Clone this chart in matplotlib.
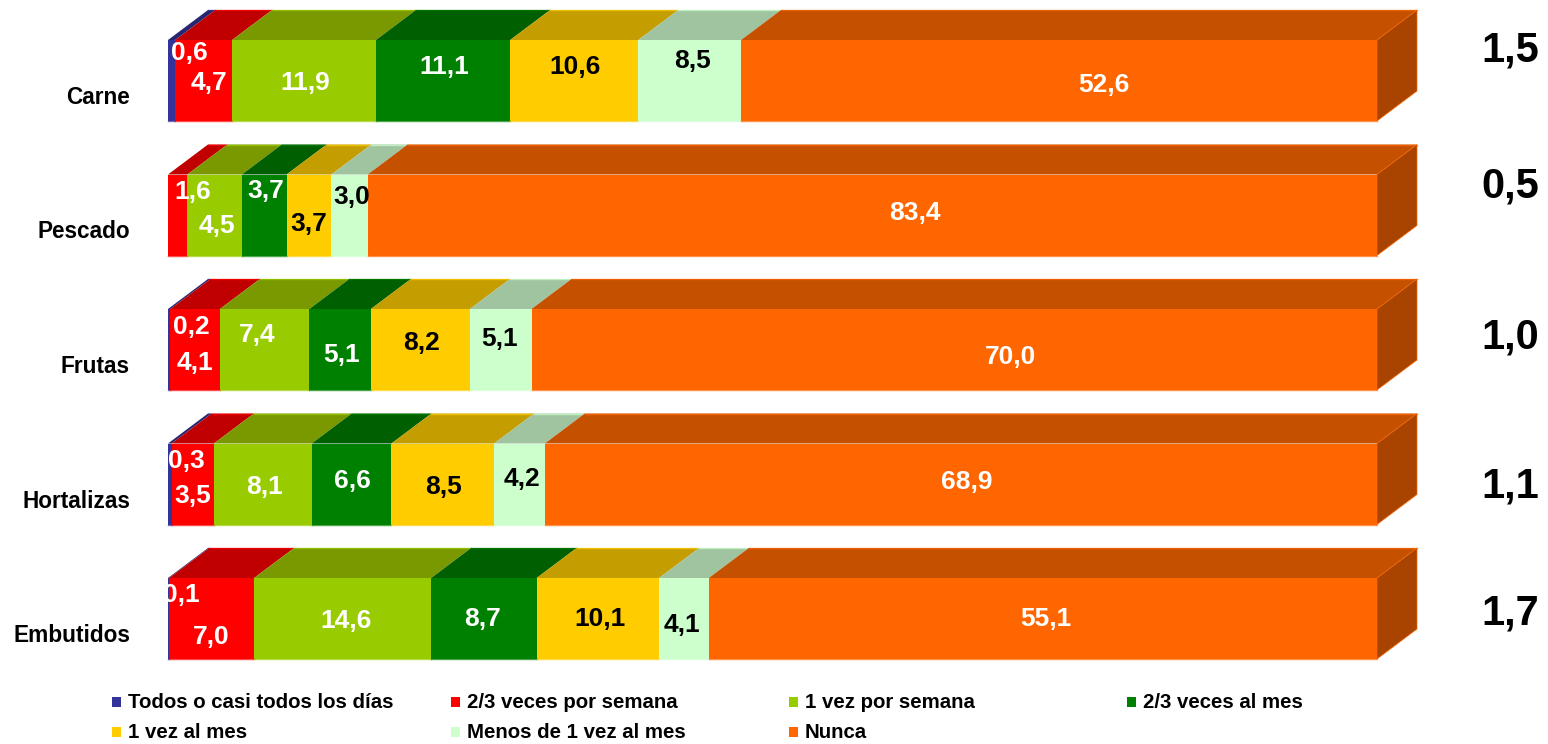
import numpy as np
import matplotlib
matplotlib.use('Agg')
import matplotlib.pyplot as plt
from matplotlib.patches import Polygon, Rectangle

plt.rcParams['font.family'] = ['Liberation Sans', 'DejaVu Sans']
plt.rcParams['font.weight'] = 'bold'

categories = ['Carne', 'Pescado', 'Frutas', 'Hortalizas', 'Embutidos']
series_names = ['Todos o casi todos los días', '2/3 veces por semana', '1 vez por semana',
                '2/3 veces al mes', '1 vez al mes', 'Menos de 1 vez al mes', 'Nunca']
todos = [0.6, 0.0, 0.2, 0.3, 0.1]
veces_semana = [4.7, 1.6, 4.1, 3.5, 7.0]
vez_semana = [11.9, 4.5, 7.4, 8.1, 14.6]
veces_mes = [11.1, 3.7, 5.1, 6.6, 8.7]
vez_mes = [10.6, 3.7, 8.2, 8.5, 10.1]
menos_mes = [8.5, 3.0, 5.1, 4.2, 4.1]
nunca = [52.6, 83.4, 70.0, 68.9, 55.1]
right_values = ['1,5', '0,5', '1,0', '1,1', '1,7']

colors = ['#333399', '#FF0000', '#99CC00', '#008000', '#FFCC00', '#CCFFCC', '#FF6600']
top_colors = ['#262673', '#C00000', '#7A9900', '#005F00', '#C49D00', '#A0C4A0', '#C45000']
side_color = '#A84400'
text_colors = ['white', 'white', 'white', 'white', 'black', 'black', 'white']

# hand placed label offsets from segment centre, in pixels
label_dx = [[18, 5, 1, 1, 1, 3, 45],
            [0, 15, 2, 2, 0, 2, 43],
            [22, 0, -7, 1, 1, -1, 56],
            [17, 0, 2, 1, 1, 2, 6],
            [13, 0, 3, -1, 2, -2, 3]]
label_dy = [[-28, 2, 3, -13, -14, -20, 5],
            [0, -23, 11, -24, 9, -18, -2],
            [-22, 14, -15, 6, -6, -10, 7],
            [-23, 12, 3, -3, 3, -5, -2],
            [-23, 19, 2, 1, 1, 6, 1]]
right_dy = [-30, -28, -12, 2, -5]

W, H = 1548, 744
px_x = 12.09   # pixels per percent
px_y = 134.5   # pixels per row
x0_px, y0_px = 168, 80.5

fig = plt.figure(figsize=(W / 100, H / 100), dpi=100)
ax = fig.add_axes([0, 0, 1, 1])
ax.set_xlim(-x0_px / px_x, (W - x0_px) / px_x)
ax.set_ylim((H - y0_px) / px_y, -y0_px / px_y)
ax.axis('off')

values = np.array([todos, veces_semana, vez_semana, veces_mes, vez_mes, menos_mes, nunca]).T
shares = values / values.sum(axis=1, keepdims=True) * 100
bar_h = 81 / px_y
depth_x = 40 / px_x
depth_y = 30 / px_y


def offset_text(x, y, s, dx, dy, size, color='black', ha='center'):
    ax.annotate(s, (x, y), xytext=(dx * 0.72, -dy * 0.72), textcoords='offset points',
                ha=ha, va='center', fontsize=size, color=color, fontweight='bold', zorder=5)


for i, cat in enumerate(categories):
    left = 0
    y_top = i - bar_h / 2
    for j in range(len(series_names)):
        w = shares[i, j]
        if w > 0:
            ax.barh(i, w, left=left, height=bar_h, color=colors[j], linewidth=0, zorder=2)
            ax.plot([left, left + w], [i + bar_h / 2] * 2, color=colors[j], lw=1, alpha=0.7, zorder=3)
            ax.add_patch(Polygon([(left, y_top), (left + w, y_top),
                                  (left + w + depth_x, y_top - depth_y), (left + depth_x, y_top - depth_y)],
                                 closed=True, facecolor=top_colors[j], edgecolor='none', zorder=1))
            ax.plot([left + depth_x, left + w + depth_x], [y_top - depth_y] * 2,
                    color=colors[j], lw=1, alpha=0.7, zorder=1)
            s = f'{values[i, j]:.1f}'.replace('.', ',')
            offset_text(left + w / 2, i, s, label_dx[i][j], label_dy[i][j], 19, text_colors[j])
        left += w
    ax.add_patch(Polygon([(left, y_top), (left + depth_x, y_top - depth_y),
                          (left + depth_x, y_top - depth_y + bar_h), (left, y_top + bar_h)],
                         closed=True, facecolor=side_color, edgecolor='#FF6600', linewidth=0.5, zorder=1))
    offset_text(0, i, cat, -38, 17, 16.3, ha='right')
    offset_text(100 + 133 / px_x, i, right_values[i], 0, right_dy[i], 30)

# legend in two rows, laid out on a fixed grid like the original
leg_x = [112, 451, 789, 1127]
leg_y = [702, 732]
for k, name in enumerate(series_names):
    col, row = k % 4, k // 4
    fig.patches.append(Rectangle((leg_x[col] / W, 1 - (leg_y[row] + 5) / H), 9 / W, 10 / H,
                                 transform=fig.transFigure, facecolor=colors[k], edgecolor='none'))
    fig.text((leg_x[col] + 16) / W, 1 - (leg_y[row] + 1) / H, name, fontsize=14.7, fontweight='bold',
             ha='left', va='center', color='black')

fig.savefig('out.png', dpi=100, facecolor='white')
